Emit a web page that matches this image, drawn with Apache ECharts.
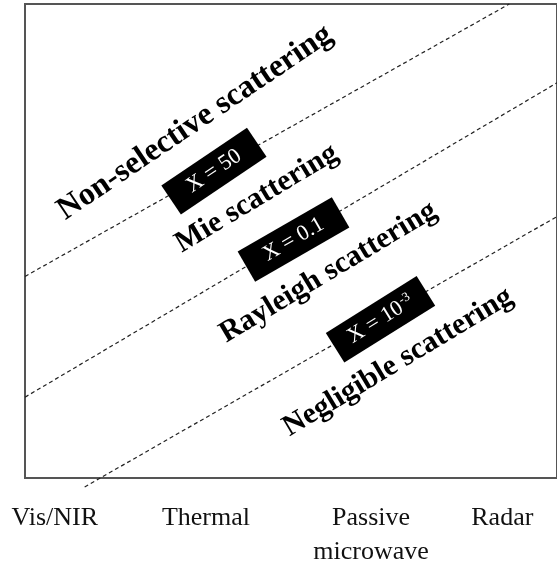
<!DOCTYPE html>
<html>
<head>
<meta charset="utf-8">
<script src="https://cdn.jsdelivr.net/npm/echarts@6/dist/echarts.min.js"></script>
<style>
html,body{margin:0;padding:0;background:#fff;}
#chart{width:557px;height:569px;}
</style>
</head>
<body>
<div id="chart"></div>
<script>
// Category tick labels along the spectrum (x positions in axis units)
const bandNames = ['Vis/NIR', 'Thermal', 'Passive\nmicrowave', 'Radar'];
const bandPositions = [30, 182, 348, 480];

// Boundary lines (size parameter X) as [x, y] end points in axis units
const boundaryX50 = [[0, 202], [487, 475]];
const boundaryX01 = [[0, 81], [535, 396]];
const boundaryX1e3 = [[60, -9], [535, 262]];

// Boundary tags
const tagNames = ['X = 50', 'X = 0.1', 'X = 10{sup|-3}'];
const tagPoints = [[190, 307.5], [270, 239], [357.5, 159]];

// Regime names
const regimeNames = ['Non-selective scattering', 'Mie scattering', 'Rayleigh scattering', 'Negligible scattering'];
const regimePoints = [[171, 356], [233, 280], [305, 206], [375, 116]];

const serif = '"Liberation Serif", "Times New Roman", serif';

const chart = echarts.init(document.getElementById('chart'));

function dashLine(data) {
  return {
    type: 'line',
    data: data,
    symbol: 'none',
    clip: false,
    silent: true,
    lineStyle: { color: '#222', width: 1.2, type: [4, 3] },
    z: 2
  };
}

const tagRot = [34, 30, 32];
const regimeRot = [34, 31, 31, 31];
const regimeSize = [32, 30, 30, 30];

const option = {
  animation: false,
  grid: {
    left: 25, top: 4, right: -3, bottom: 90,
    show: true, borderColor: '#555', borderWidth: 2, backgroundColor: 'transparent'
  },
  xAxis: {
    type: 'value', min: 0, max: 535,
    axisLine: { show: false }, axisTick: { show: false }, splitLine: { show: false },
    axisLabel: {
      customValues: bandPositions,
      formatter: function (v) {
        const i = bandPositions.indexOf(v);
        return i >= 0 ? bandNames[i] : '';
      },
      fontFamily: serif, fontSize: 26, color: '#111', lineHeight: 34, margin: 23
    }
  },
  yAxis: {
    type: 'value', min: 0, max: 475,
    axisLine: { show: false }, axisTick: { show: false }, splitLine: { show: false },
    axisLabel: { show: false }
  },
  series: [
    dashLine(boundaryX50),
    dashLine(boundaryX01),
    dashLine(boundaryX1e3),
    {
      type: 'scatter',
      symbolSize: 0,
      silent: true,
      z: 5,
      itemStyle: { opacity: 1 },
      data: tagPoints.map(function (p, i) {
        return {
          value: p,
          itemStyle: { opacity: 1 },
          label: {
            show: true,
            position: 'inside',
            rotate: tagRot[i],
            formatter: tagNames[i],
            color: '#fff',
            opacity: 1,
            fontFamily: serif,
            fontSize: 22,
            lineHeight: 22,
            backgroundColor: '#000',
            padding: [6.5, i === 2 ? 17 : 21],
            rich: {
              sup: { fontSize: 13, fontFamily: serif, color: '#fff', padding: [0, 0, 10, 1] }
            }
          }
        };
      })
    },
    {
      type: 'scatter',
      symbolSize: 0,
      silent: true,
      z: 6,
      itemStyle: { opacity: 1 },
      data: regimePoints.map(function (p, i) {
        return {
          value: p,
          itemStyle: { opacity: 1 },
          label: {
            show: true,
            position: 'inside',
            rotate: regimeRot[i],
            formatter: regimeNames[i],
            color: '#000',
            opacity: 1,
            fontFamily: serif,
            fontWeight: 'bold',
            fontSize: regimeSize[i]
          }
        };
      })
    }
  ]
};

chart.setOption(option);
</script>
</body>
</html>
